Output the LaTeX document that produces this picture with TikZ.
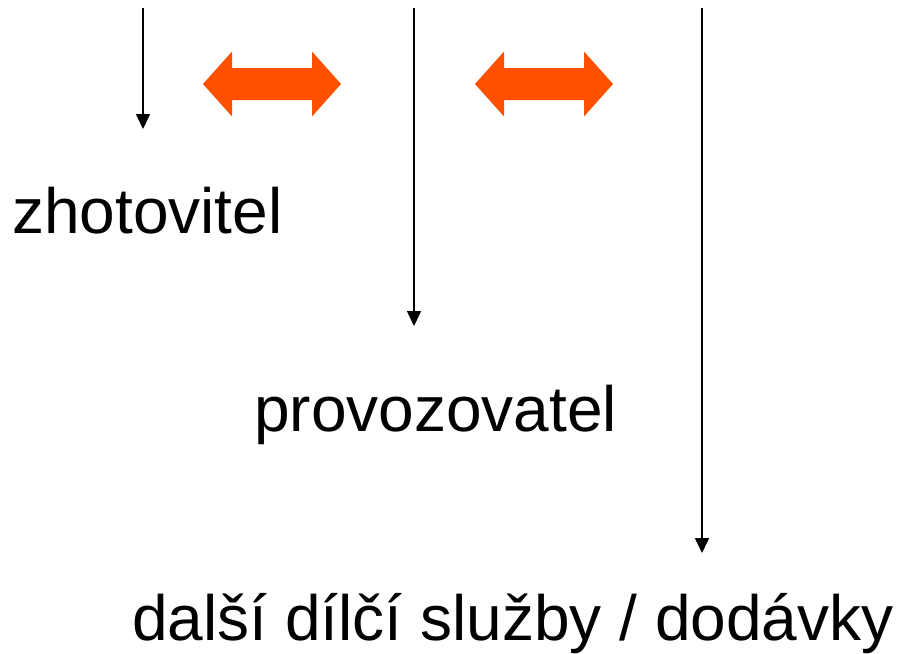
\documentclass[tikz,border=0pt]{standalone}
\usepackage{fontspec}
\setmainfont{Liberation Sans}
\usetikzlibrary{arrows.meta}
\definecolor{arroworange}{RGB}{255,80,0}
\tikzset{
  label/.style={anchor=base west, inner sep=0pt, font=\fontsize{64}{76}\selectfont},
  down/.style={line width=1.6pt, -{Triangle[width=14pt,length=15pt]}},
  swap/.pic={
    \fill[arroworange] (-69,0) -- (-40,-32.5) -- (-40,-16) -- (40,-16) -- (40,-32.5)
      -- (69,0) -- (40,32.5) -- (40,16) -- (-40,16) -- (-40,32.5) -- cycle;
  }
}
\begin{document}
\begin{tikzpicture}[x=1pt,y=-1pt]
\useasboundingbox (0,0) rectangle (899,653);
%start and end points
\coordinate (s1) at (143,8);
\coordinate (e1) at (143,129);
\coordinate (s2) at (414,8);
\coordinate (e2) at (414,326);
\coordinate (s3) at (702,8);
\coordinate (e3) at (702,553);
%
\draw[down] (s1) -- (e1);
\draw[down] (s2) -- (e2);
\draw[down] (s3) -- (e3);
%
\pic (sw1) at (272,84) {swap};
\pic (sw2) at (544,84) {swap};
%
\node[label] (zhot) at (12,233) {zhotovitel};
\node[label] (prov) at (254,431) {provozovatel};
\node[label] (dals) at (132,640) {další dílčí služby / dodávky};
\end{tikzpicture}
\end{document}
